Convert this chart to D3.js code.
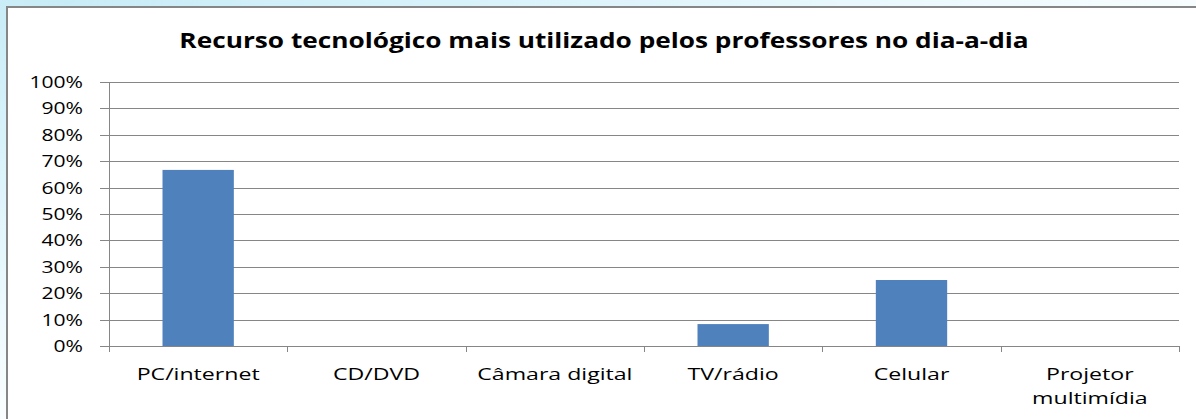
<!DOCTYPE html>
<html>
<head>
<meta charset="utf-8">
<script src="https://cdn.jsdelivr.net/npm/d3@7/dist/d3.min.js"></script>
<style>
  html, body { margin: 0; padding: 0; background: #fff; }
  svg { display: block; }
</style>
</head>
<body>
<div id="chart"></div>
<script>
// Data (share of teachers, 0..1)
const categories = ['PC/internet', 'CD/DVD', 'Câmara digital', 'TV/rádio', 'Celular', 'Projetor multimídia'];
const labelLines = [['PC/internet'], ['CD/DVD'], ['Câmara digital'], ['TV/rádio'], ['Celular'], ['Projetor', 'multimídia']];
const values = [0.667, 0, 0, 0.083, 0.25, 0];
const yTicks = [0, 0.1, 0.2, 0.3, 0.4, 0.5, 0.6, 0.7, 0.8, 0.9, 1.0];
const title = 'Recurso tecnológico mais utilizado pelos professores no dia-a-dia';

(function () {
    const W = 1196, H = 419;
    const FONT = '"Open Sans", "Liberation Sans", sans-serif';
    const SX = 1.36; // source picture is stretched horizontally
    const plot = { left: 109, right: 1179, top: 82, bottom: 346 };
    const grid = '#868686';

    const svg = d3.select('#chart').append('svg')
        .attr('width', W).attr('height', H);

    // pale blue glow behind the chart frame
    const defs = svg.append('defs');
    const glow = defs.append('radialGradient').attr('id', 'glow')
        .attr('cx', 0.05).attr('cy', 0).attr('r', 1.1);
    glow.append('stop').attr('offset', '0%').attr('stop-color', '#c8ecf7');
    glow.append('stop').attr('offset', '60%').attr('stop-color', '#e8f8fc');
    glow.append('stop').attr('offset', '100%').attr('stop-color', '#ffffff');
    svg.append('rect').attr('width', W).attr('height', H).attr('fill', 'url(#glow)');

    // chart frame (runs off the right and bottom edges)
    svg.append('rect')
        .attr('x', 7).attr('y', 7).attr('width', W + 10).attr('height', H + 10)
        .attr('fill', '#fff').attr('stroke', grid).attr('stroke-width', 2);

    const x = d3.scaleBand().domain(categories)
        .range([plot.left, plot.right]).paddingInner(0.6).paddingOuter(0.3);
    const xCat = d3.scaleBand().domain(categories).range([plot.left, plot.right]);
    const y = d3.scaleLinear().domain([0, 1]).range([plot.bottom, plot.top]);

    function stretchedText(g, tx, ty, str, size, weight, anchor, sx) {
        return g.append('text')
            .attr('transform', `translate(${tx},${ty}) scale(${sx || SX},1)`)
            .attr('font-family', FONT)
            .attr('font-size', size)
            .attr('font-weight', weight || 'normal')
            .attr('text-anchor', anchor || 'start')
            .attr('fill', '#000')
            .text(str);
    }

    // title
    stretchedText(svg, 604, 48, title, 20.5, 'bold', 'middle', 1.28);

    // gridlines + y ticks
    const gy = svg.append('g');
    gy.selectAll('line.grid').data(yTicks).join('line')
        .attr('class', 'grid')
        .attr('x1', plot.left - 9).attr('x2', plot.right)
        .attr('y1', (d) => Math.round(y(d)) + 0.5).attr('y2', (d) => Math.round(y(d)) + 0.5)
        .attr('stroke', grid).attr('stroke-width', 1);
    yTicks.forEach((t) => {
        stretchedText(gy, 83, Math.round(y(t)) + 6, d3.format('.0%')(t), 15.5, 'normal', 'end');
    });

    // axes lines
    svg.append('line')
        .attr('x1', plot.left + 0.5).attr('x2', plot.left + 0.5)
        .attr('y1', plot.top).attr('y2', plot.bottom + 6)
        .attr('stroke', grid);
    const bounds = categories.map((c) => xCat(c)).concat([plot.right]);
    svg.selectAll('line.xtick').data(bounds).join('line')
        .attr('class', 'xtick')
        .attr('x1', (d) => Math.round(d) + 0.5).attr('x2', (d) => Math.round(d) + 0.5)
        .attr('y1', plot.bottom).attr('y2', plot.bottom + 6)
        .attr('stroke', grid);

    // bars
    svg.append('g').selectAll('rect').data(values).join('rect')
        .attr('x', (d, i) => x(categories[i]))
        .attr('width', x.bandwidth())
        .attr('y', (d) => y(d))
        .attr('height', (d) => plot.bottom - y(d))
        .attr('fill', '#4f81bd');

    // category labels
    const gx = svg.append('g');
    labelLines.forEach((lines, i) => {
        const cx = xCat(categories[i]) + xCat.bandwidth() / 2;
        lines.forEach((ln, j) => {
            stretchedText(gx, cx, 380 + j * 24, ln, 17, 'normal', 'middle');
        });
    });
})();
</script>
</body>
</html>
